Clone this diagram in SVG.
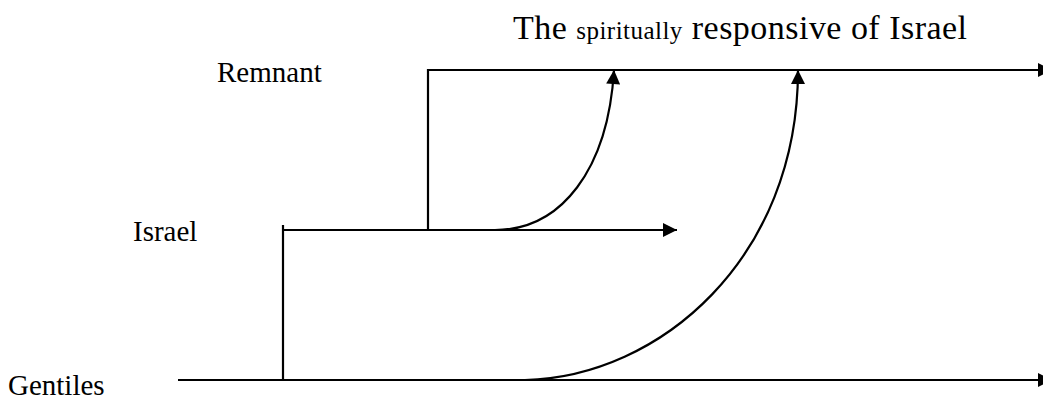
<svg xmlns="http://www.w3.org/2000/svg" width="1043" height="404" viewBox="0 0 1043 404">
<style>
.ln{stroke:#000;stroke-width:2.2;fill:none}
.t{font-family:"Liberation Serif","Times New Roman",serif;fill:#000}
</style>
<defs>
<marker id="ah" viewBox="0 0 10 10" refX="10" refY="5" markerWidth="15" markerHeight="14" markerUnits="userSpaceOnUse" orient="auto">
<path d="M0,0 L10,5 L0,10 z" fill="#000"/>
</marker>
</defs>
<rect width="1043" height="404" fill="#fff"/>
<g id="title"><text class="t" x="513" y="39" font-size="34" textLength="454" lengthAdjust="spacing">The <tspan font-size="25">spiritually</tspan> responsive of Israel</text></g>
<g id="remnant"><text class="t" x="217" y="82" font-size="29">Remnant</text></g>
<g id="israel"><text class="t" x="133" y="241" font-size="29">Israel</text></g>
<g id="gentiles"><text class="t" x="8" y="395" font-size="29">Gentiles</text></g>
<g id="connectors">
<path class="ln" d="M428,230 V70 H1052" marker-end="url(#ah)"/>
<path class="ln" d="M283,380 V225 M283,230 H677" marker-end="url(#ah)"/>
<path class="ln" d="M178,380 H1052" marker-end="url(#ah)"/>
<path class="ln" d="M495,230 C561,230 608,170 614,70" marker-end="url(#ah)"/>
<path class="ln" d="M525,380 C660,377 798,258 798,70" marker-end="url(#ah)"/>
</g>
</svg>
